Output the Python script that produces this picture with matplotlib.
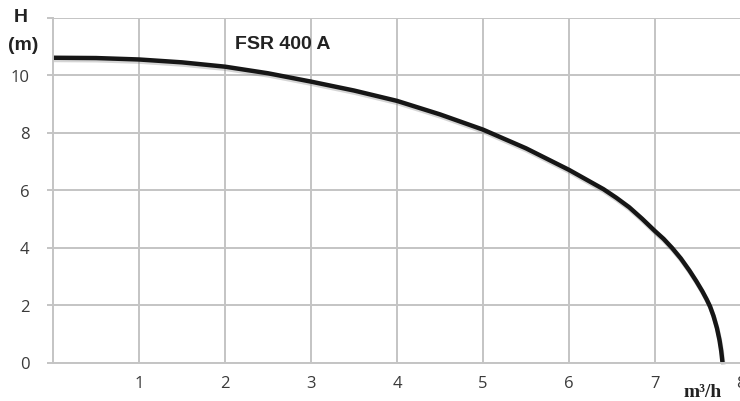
import matplotlib
matplotlib.use("Agg")
import matplotlib.pyplot as plt
import matplotlib.patheffects as pe

# Pump performance curve: flow (m³/h) vs head (m)
flow = [0.0, 0.5, 1.0, 1.5, 2.0, 2.5, 3.0, 3.5, 4.0, 4.5, 5.0, 5.5, 6.0,
        6.4, 6.55, 6.7, 6.85, 7.0, 7.1, 7.2, 7.3, 7.4, 7.48, 7.55, 7.6,
        7.64, 7.68, 7.72, 7.75, 7.77, 7.785]
head = [10.60, 10.59, 10.54, 10.44, 10.29, 10.06, 9.77, 9.46, 9.10, 8.63,
        8.10, 7.45, 6.70, 6.03, 5.73, 5.40, 5.00, 4.57, 4.30, 3.98, 3.62,
        3.20, 2.83, 2.48, 2.20, 1.95, 1.62, 1.20, 0.78, 0.40, 0.0]

x_ticks = [1, 2, 3, 4, 5, 6, 7, 8]
y_ticks = [0, 2, 4, 6, 8, 10, 12]
y_labels = ["0", "2", "4", "6", "8", "10", ""]
title = "FSR 400 A"

W, H = 740, 402
fig = plt.figure(figsize=(W / 100, H / 100), dpi=100)
ax = fig.add_axes([53 / W, 38.5 / H, 688 / W, 345 / H])

grid_c = "#c4c4c4"
ax.set_xlim(0, 8)
ax.set_ylim(0, 12)
ax.set_xticks(x_ticks)
ax.set_yticks(y_ticks)
ax.set_yticklabels(y_labels)
ax.grid(True, color=grid_c, linewidth=1.4)
ax.set_axisbelow(True)

for s in ("top", "right"):
    ax.spines[s].set_visible(False)
for s in ("left", "bottom"):
    ax.spines[s].set_color(grid_c)
    ax.spines[s].set_linewidth(1.4)

ax.tick_params(axis="x", length=0, pad=9, labelcolor="#3a3a3a", labelsize=12)
ax.tick_params(axis="y", length=4, width=1.4, color=grid_c, pad=13,
               labelcolor="#3a3a3a", labelsize=12)
for lbl in ax.get_xticklabels() + ax.get_yticklabels():
    lbl.set_fontfamily(["Open Sans", "DejaVu Sans"])
for lbl in ax.get_xticklabels():
    lbl.set_clip_on(False)

ax.plot(flow, head, color="#161616", linewidth=3.2, solid_capstyle="butt",
        solid_joinstyle="round", clip_on=False,
        path_effects=[pe.SimpleLineShadow(offset=(0.6, -1.6),
                                          shadow_color="#888888", alpha=0.35),
                      pe.Normal()])

bold_sans = ["Liberation Sans", "DejaVu Sans"]
ax.text(2.12, 11.1, title, fontsize=14, fontweight="bold",
        family=bold_sans, color="#222222", ha="left", va="center")

fig.text(21 / W, 1 - 18 / H, "H", fontsize=14, fontweight="bold",
         family=bold_sans, color="#222222", ha="center", va="center")
fig.text(23 / W, 1 - 46 / H, "(m)", fontsize=14, fontweight="bold",
         family=bold_sans, color="#222222", ha="center", va="center")
fig.text(703 / W, 1 - 393 / H, "m³/h", fontsize=14, fontweight="bold",
         family=["Liberation Serif", "DejaVu Serif"], color="#222222",
         ha="center", va="center")

fig.savefig("out.png", dpi=100)
